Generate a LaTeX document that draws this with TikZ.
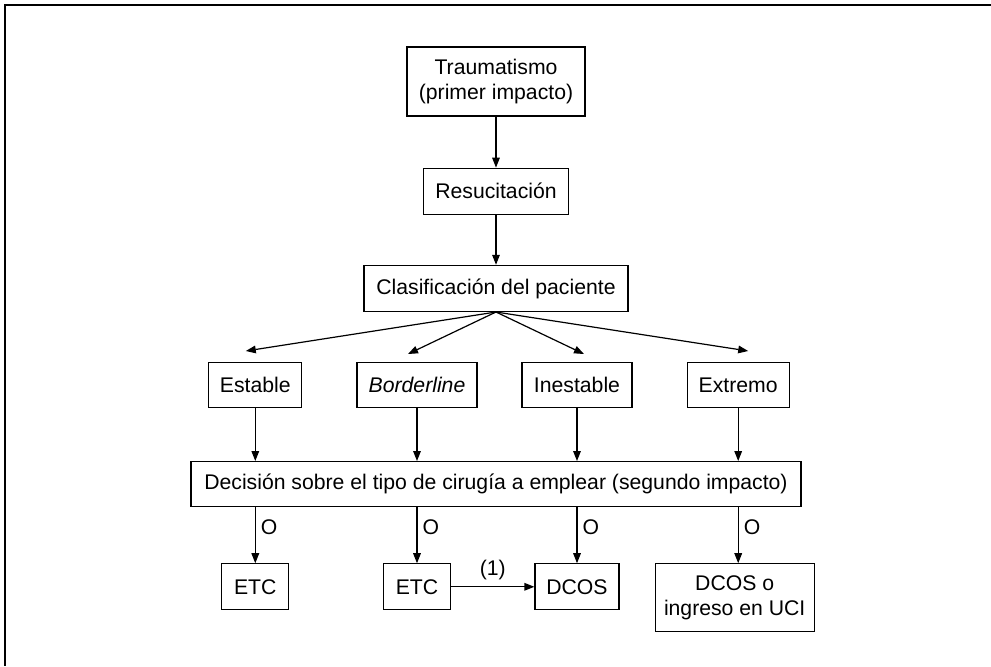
\documentclass[tikz,border=0pt]{standalone}
\usepackage{fontspec}
\setmainfont{Liberation Sans}
\usetikzlibrary{positioning, arrows.meta}

\begin{document}
\begin{tikzpicture}[node distance=25pt and 27pt, font=\fontsize{10.6}{12.2}\selectfont]

% --- Styles ---
\tikzset{
    caja/.style={rectangle, draw, line width=0.6pt, align=center, inner sep=0pt, minimum height=23pt},
    flecha/.style={-{Triangle[length=5pt, width=3.8pt]}, line width=0.6pt},
}

% --- Page size and frame ---
\useasboundingbox (0,0) rectangle (495.5pt,-333pt);
\draw[line width=0.8pt] (495.5pt,-2.5pt) -- (2.5pt,-2.5pt) -- (2.5pt,-333pt);

% --- Column 1: trauma, resucitacion, clasificacion ---
\node[caja, minimum width=89pt, minimum height=34.5pt] (trauma) at (248pt,-40.75pt) {Traumatismo\\(primer impacto)};
\node[caja, minimum width=72.5pt, below=25.5pt of trauma] (resuc) {Resucitación};
\node[caja, minimum width=132pt, below=25pt of resuc] (clasif) {Clasificación del paciente};

% --- Row 2: patient classes ---
\node[caja, minimum width=46.5pt, minimum height=22.5pt, below left=25pt and 30.5pt of clasif] (estable) {Estable};
\node[caja, minimum width=51pt, minimum height=22.5pt, below right=25pt and 29pt of clasif] (extremo) {Extremo};
\node[caja, minimum width=60pt, minimum height=22.5pt, right=27pt of estable] (border) {\textit{Borderline}};
\node[caja, minimum width=55pt, minimum height=22.5pt, left=27pt of extremo] (inest) {Inestable};

% --- Row 3: decision ---
\node[caja, minimum width=305pt, minimum height=22.5pt, below=74.5pt of clasif] (decis) {Decisión sobre el tipo de cirugía a emplear (segundo impacto)};

% --- Row 4: surgery ---
\node[caja, minimum width=33.5pt, below=77.5pt of estable] (etc1) {ETC};
\node[caja, minimum width=33.5pt, below=77.5pt of border] (etc2) {ETC};
\node[caja, minimum width=42pt, below=77.5pt of inest] (dcos) {DCOS};
\node[caja, minimum width=79.5pt, minimum height=34pt, below=77.5pt of extremo, xshift=-1.75pt] (uci) {DCOS o\\ingreso en UCI};

% --- Arrow ends above row 2 ---
\coordinate[above left=5.5pt and 4.75pt of estable.north] (pE);
\coordinate[above left=4pt and 4.5pt of border.north] (pB);
\coordinate[above right=4pt and 3.5pt of inest.north] (pI);
\coordinate[above right=5.5pt and 5pt of extremo.north] (pX);

% --- Arrows ---
\draw[flecha] (trauma) -- (resuc);
\draw[flecha] (resuc) -- (clasif);

\draw[flecha] (clasif.south) -- (pE);
\draw[flecha] (clasif.south) -- (pB);
\draw[flecha] (clasif.south) -- (pI);
\draw[flecha] (clasif.south) -- (pX);

\draw[flecha] (estable.south) -- (estable |- decis.north);
\draw[flecha] (border.south) -- (border |- decis.north);
\draw[flecha] (inest.south) -- (inest |- decis.north);
\draw[flecha] (extremo.south) -- (extremo |- decis.north);

\draw[flecha] (estable |- decis.south) -- node[right, pos=0.35, inner sep=2.5pt] {O} (etc1);
\draw[flecha] (border |- decis.south) -- node[right, pos=0.35, inner sep=2.5pt] {O} (etc2);
\draw[flecha] (inest |- decis.south) -- node[right, pos=0.35, inner sep=2.5pt] {O} (dcos);
\draw[flecha] (extremo |- decis.south) -- node[right, pos=0.35, inner sep=2.5pt] {O} (extremo |- uci.north);

\draw[flecha] (etc2) -- node[above] {(1)} (dcos);

\end{tikzpicture}
\end{document}
